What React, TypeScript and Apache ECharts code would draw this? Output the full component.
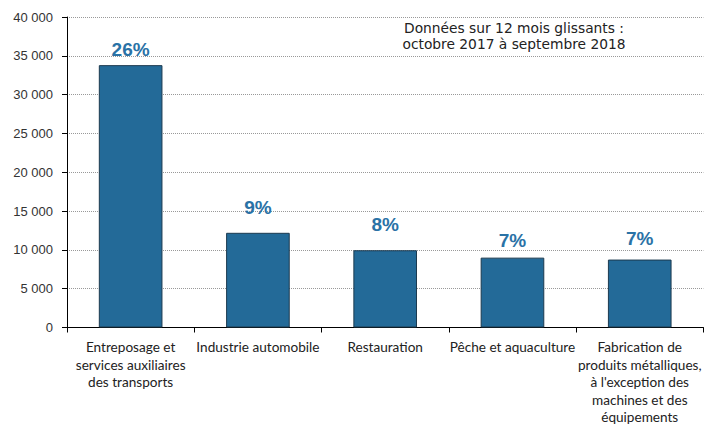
import React, { useEffect, useRef } from "react";
import * as echarts from "echarts";

const categories = [
  "Entreposage et\nservices auxiliaires\ndes transports",
  "Industrie automobile",
  "Restauration",
  "Pêche et aquaculture",
  "Fabrication de\nproduits métalliques,\nà l'exception des\nmachines et des\néquipements",
];
const values = [33800, 12200, 9950, 9000, 8750];
const shares = ["26%", "9%", "8%", "7%", "7%"];
const labelGaps = [6, 16, 16, 8, 12];
const noteLines = ["Données sur 12 mois glissants :", "octobre 2017 à septembre 2018"];

export default function App() {
  const ref = useRef<HTMLDivElement>(null);
  useEffect(() => {
    if (!ref.current) return;
    const chart = echarts.init(ref.current, undefined, { renderer: "svg" });
    chart.setOption({
      animation: false,
      grid: { left: 67, right: -5, top: 17, bottom: 96, containLabel: false },
      xAxis: {
        type: "category",
        data: categories,
        axisLine: { lineStyle: { color: "#000", width: 1 } },
        axisTick: { show: true, length: 5, lineStyle: { color: "#000" } },
        axisLabel: {
          interval: 0,
          margin: 11,
          color: "#222",
          fontFamily: "Lato",
          fontSize: 13.6,
          lineHeight: 17.5,
          align: "center",
        },
      },
      yAxis: {
        type: "value",
        min: 0,
        max: 40000,
        interval: 5000,
        axisLine: { show: true, lineStyle: { color: "#000", width: 1 } },
        axisTick: { show: true, length: 5, lineStyle: { color: "#000" } },
        axisLabel: {
          margin: 14,
          color: "#333",
          fontFamily: "Liberation Sans, Arial",
          fontSize: 13,
          formatter: (v: number) =>
            String(v).replace(/\B(?=(\d{3})+(?!\d))/g, " "),
        },
        splitLine: { show: true, lineStyle: { color: "#999", type: "dotted", width: 1 } },
      },
      series: [
        {
          type: "bar",
          barWidth: "50%",
          data: values.map((v, i) => ({
            value: v,
            label: { distance: labelGaps[i] },
          })),
          itemStyle: { color: "#236a98", borderColor: "#1c3a4f", borderWidth: 1 },
          label: {
            show: true,
            position: "top",
            formatter: (p: any) => shares[p.dataIndex],
            color: "#2a72a6",
            fontFamily: "Liberation Sans, Arial",
            fontWeight: "bold",
            fontSize: 19,
          },
        },
      ],
      graphic: [
        {
          type: "text",
          x: 514,
          y: 20,
          style: {
            text: noteLines.join("\n"),
            textAlign: "center",
            fill: "#222",
            fontFamily: "DejaVu Sans",
            fontSize: 13.8,
            lineHeight: 16,
          },
        },
      ],
    });
    return () => chart.dispose();
  }, []);
  return (
    <div
      ref={ref}
      style={{ position: "fixed", left: 0, top: 0, width: 704, height: 426, background: "#fff" }}
    />
  );
}
